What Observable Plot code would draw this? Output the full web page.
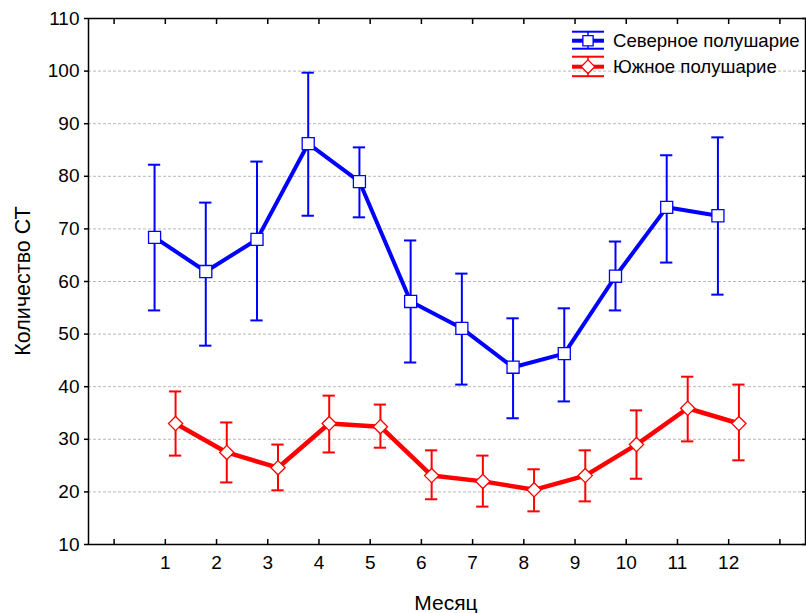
<!DOCTYPE html>
<html>
<head>
<meta charset="utf-8">
<script src="https://cdn.jsdelivr.net/npm/d3@7"></script>
<script src="https://cdn.jsdelivr.net/npm/@observablehq/plot@0.6"></script>
<style>
  html, body { margin: 0; padding: 0; background: #fff; }
  #chart { position: relative; width: 806px; height: 613px; overflow: hidden; }
</style>
</head>
<body>
<div id="chart"></div>
<script>
const months = [1, 2, 3, 4, 5, 6, 7, 8, 9, 10, 11, 12];
const monthTicks = [0, 1, 2, 3, 4, 5, 6, 7, 8, 9, 10, 11, 12, 13];
const yTicks = [10, 20, 30, 40, 50, 60, 70, 80, 90, 100, 110];

const northName = "Северное полушарие";
const northMean = [68.4, 61.9, 68.0, 86.2, 79.0, 56.2, 51.1, 43.7, 46.3, 61.0, 74.1, 72.5];
const northHigh = [82.2, 75.0, 82.8, 99.7, 85.5, 67.8, 61.5, 53.0, 54.9, 67.6, 84.0, 87.4];
const northLow  = [54.5, 47.8, 52.6, 72.5, 72.2, 44.6, 40.4, 34.0, 37.2, 54.5, 63.6, 57.5];

const southName = "Южное полушарие";
const southMean = [33.0, 27.5, 24.6, 33.0, 32.4, 23.1, 22.0, 20.4, 23.1, 29.0, 35.9, 33.0];
const southHigh = [39.1, 33.2, 29.0, 38.3, 36.6, 27.9, 26.9, 24.3, 27.9, 35.5, 41.9, 40.4];
const southLow  = [26.9, 21.8, 20.3, 27.5, 28.4, 18.6, 17.2, 16.3, 18.2, 22.5, 29.6, 26.0];

const xLabel = "Месяц";
const yLabel = "Количество СТ";

const BLUE = "#0000ff", RED = "#ff0000";
const north = months.map((m, i) => ({x: m - 0.21, y: northMean[i], lo: northLow[i], hi: northHigh[i]}));
const south = months.map((m, i) => ({x: m + 0.2, y: southMean[i], lo: southLow[i], hi: southHigh[i]}));
const capHalf = 0.12;

function seriesMarks(data, color, symbol, r, lw) {
  return [
    Plot.ruleX(data, {x: "x", y1: "lo", y2: "hi", stroke: color, strokeWidth: 2}),
    Plot.ruleY(data, {y: "hi", x1: d => d.x - capHalf, x2: d => d.x + capHalf, stroke: color, strokeWidth: 2}),
    Plot.ruleY(data, {y: "lo", x1: d => d.x - capHalf, x2: d => d.x + capHalf, stroke: color, strokeWidth: 2}),
    Plot.line(data, {x: "x", y: "y", stroke: color, strokeWidth: lw}),
    Plot.dot(data, {x: "x", y: "y", symbol, r, fill: "white", stroke: color, strokeWidth: 1.3})
  ];
}

const font = "'Liberation Sans', Arial, sans-serif";

const plot = Plot.plot({
  width: 806,
  height: 613,
  marginLeft: 88,
  marginRight: 1,
  marginTop: 18,
  marginBottom: 69,
  style: {fontFamily: font, fontSize: "19px", color: "#000", background: "transparent"},
  x: {domain: [-0.5, 13.5]},
  y: {domain: [10, 110]},
  marks: [
    Plot.gridY(yTicks.filter(v => v > 10 && v < 110), {stroke: "#b8b8b8", strokeOpacity: 1, strokeWidth: 1, strokeDasharray: "3,2"}),
    Plot.axisX(monthTicks, {anchor: "bottom", tickSize: -5, tickFormat: () => "", label: null, strokeWidth: 1.5}),
    Plot.axisX(monthTicks, {anchor: "top", tickSize: -5, tickFormat: () => "", label: null, strokeWidth: 1.5}),
    Plot.axisX(months, {anchor: "bottom", tickSize: 0, tickPadding: 11, label: null, fontSize: 19}),
    Plot.axisY(yTicks, {anchor: "left", tickSize: 4, tickPadding: 5, label: null, fontSize: 19, strokeWidth: 1.5}),
    Plot.axisY(yTicks, {anchor: "right", tickSize: -4, tickFormat: () => "", label: null, strokeWidth: 1.5}),
    Plot.frame({stroke: "#000", strokeWidth: 1.5}),
    ...seriesMarks(north, BLUE, "square", 6.8, 4),
    ...seriesMarks(south, RED, "diamond2", 6.4, 4.5)
  ]
});

document.getElementById("chart").appendChild(plot);

const svg = d3.select(plot);
// axis titles
svg.append("text").attr("x", 446).attr("y", 603).attr("dy", "0.35em")
  .attr("text-anchor", "middle").attr("font-family", font).attr("font-size", 21).attr("fill", "#000").text(xLabel);
svg.append("text").attr("transform", "translate(22,281) rotate(-90)").attr("dy", "0.35em")
  .attr("text-anchor", "middle").attr("font-family", font).attr("font-size", 21.5).attr("fill", "#000").text(yLabel);

// legend drawn inside plot area (top right)
const lg = svg.append("g").attr("font-family", font).attr("font-size", 18.6).attr("text-anchor", "start");
const items = [
  {name: northName, color: BLUE, cy: 40.7, capTop: 31.7, capBot: 48.7, sym: "square"},
  {name: southName, color: RED, cy: 66.7, capTop: 56.7, capBot: 76.2, sym: "diamond"}
];
for (const it of items) {
  const g = lg.append("g");
  g.append("line").attr("x1", 572).attr("x2", 604).attr("y1", it.capTop).attr("y2", it.capTop).attr("stroke", it.color).attr("stroke-width", 2);
  g.append("line").attr("x1", 572).attr("x2", 604).attr("y1", it.capBot).attr("y2", it.capBot).attr("stroke", it.color).attr("stroke-width", 2);
  g.append("line").attr("x1", 572).attr("x2", 604).attr("y1", it.cy).attr("y2", it.cy).attr("stroke", it.color).attr("stroke-width", 4);
  g.append("line").attr("x1", 588).attr("x2", 588).attr("y1", it.capTop).attr("y2", it.capBot).attr("stroke", it.color).attr("stroke-width", 1.5);
  const sym = it.sym === "square" ? d3.symbolSquare : d3.symbolDiamond2;
  g.append("path").attr("transform", `translate(588,${it.cy})`)
    .attr("d", d3.symbol(sym, it.sym === "square" ? 105 : 120)())
    .attr("fill", "white").attr("stroke", it.color).attr("stroke-width", 1.3);
  g.append("text").attr("x", 613).attr("y", it.cy).attr("dy", "0.35em").attr("fill", "#000").text(it.name);
}
</script>
</body>
</html>
